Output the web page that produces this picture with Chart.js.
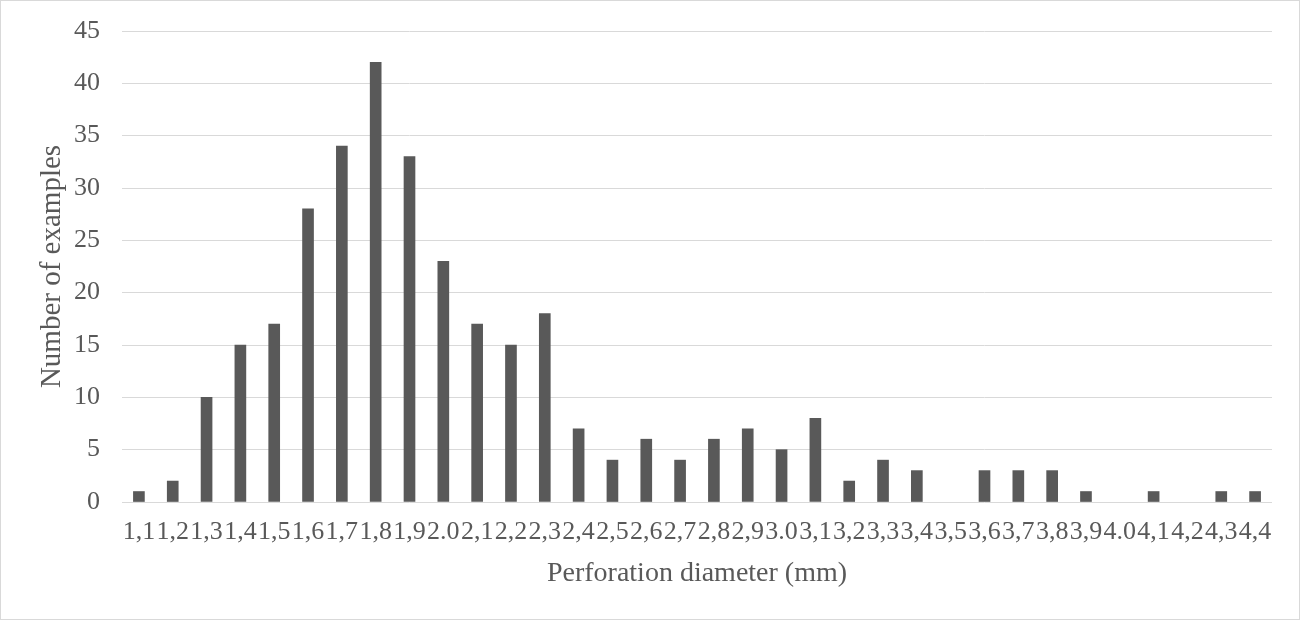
<!DOCTYPE html>
<html>
<head>
<meta charset="utf-8">
<script src="https://cdn.jsdelivr.net/npm/chart.js@4"></script>
<style>
    body { margin: 0; background: #fff; }
    #wrap { width: 1300px; height: 620px; box-sizing: border-box; border: 1px solid #d9d9d9; position: relative; }
</style>
</head>
<body>
<div id="wrap"><canvas id="histChart"></canvas></div>
<script>
// diameter classes (mm) as printed on the axis
const diameters = ['1,1', '1,2', '1,3', '1,4', '1,5', '1,6', '1,7', '1,8', '1,9', '2.0',
    '2,1', '2,2', '2,3', '2,4', '2,5', '2,6', '2,7', '2,8', '2,9', '3.0',
    '3,1', '3,2', '3,3', '3,4', '3,5', '3,6', '3,7', '3,8', '3,9', '4.0',
    '4,1', '4,2', '4,3', '4,4'];

// number of examples per class
const counts = [1, 2, 10, 15, 17, 28, 34, 42, 33, 23,
    17, 15, 18, 7, 4, 6, 4, 6, 7, 5,
    8, 2, 4, 3, 0, 3, 3, 3, 1, 0,
    1, 0, 1, 1];

const yTicks = [0, 5, 10, 15, 20, 25, 30, 35, 40, 45];

const FONT = "'Liberation Serif', 'Times New Roman', serif";
const GREY = '#595959';

new Chart(document.getElementById('histChart'), {
    type: 'bar',
    data: {
        labels: diameters,
        datasets: [{
            label: 'Number of examples',
            data: counts,
            // empty classes get no visible sliver
            backgroundColor: (ctx) => ctx.raw === 0 ? 'rgba(0,0,0,0)' : GREY,
            barThickness: 11
        }]
    },
    options: {
        responsive: true,
        maintainAspectRatio: false,
        animation: false,
        layout: { padding: { left: 0, right: 27, top: 30, bottom: 0 } },
        plugins: {
            legend: { display: false },
            tooltip: { enabled: false }
        },
        scales: {
            x: {
                grid: { display: false },
                border: { display: false },
                ticks: {
                    autoSkip: false,
                    maxRotation: 0,
                    minRotation: 0,
                    padding: 7,
                    color: GREY,
                    font: { family: FONT, size: 26 }
                },
                title: {
                    display: true,
                    text: 'Perforation diameter (mm)',
                    color: GREY,
                    font: { family: FONT, size: 28 },
                    padding: { top: 0, bottom: 29 }
                },
                afterFit: (scale) => { scale.height = 117; }
            },
            y: {
                min: yTicks[0],
                max: yTicks[yTicks.length - 1],
                grid: { color: '#d9d9d9', lineWidth: 1, drawTicks: false },
                border: { display: false },
                ticks: {
                    stepSize: yTicks[1] - yTicks[0],
                    padding: 22,
                    color: GREY,
                    font: { family: FONT, size: 26 }
                },
                title: {
                    display: true,
                    text: 'Number of examples',
                    color: GREY,
                    font: { family: FONT, size: 29 },
                    padding: { top: 34, bottom: 0 }
                },
                afterFit: (scale) => {
                    scale.width = 121;
                    scale.paddingTop = 0; // let layout padding decide the top
                }
            }
        }
    }
});
</script>
</body>
</html>
